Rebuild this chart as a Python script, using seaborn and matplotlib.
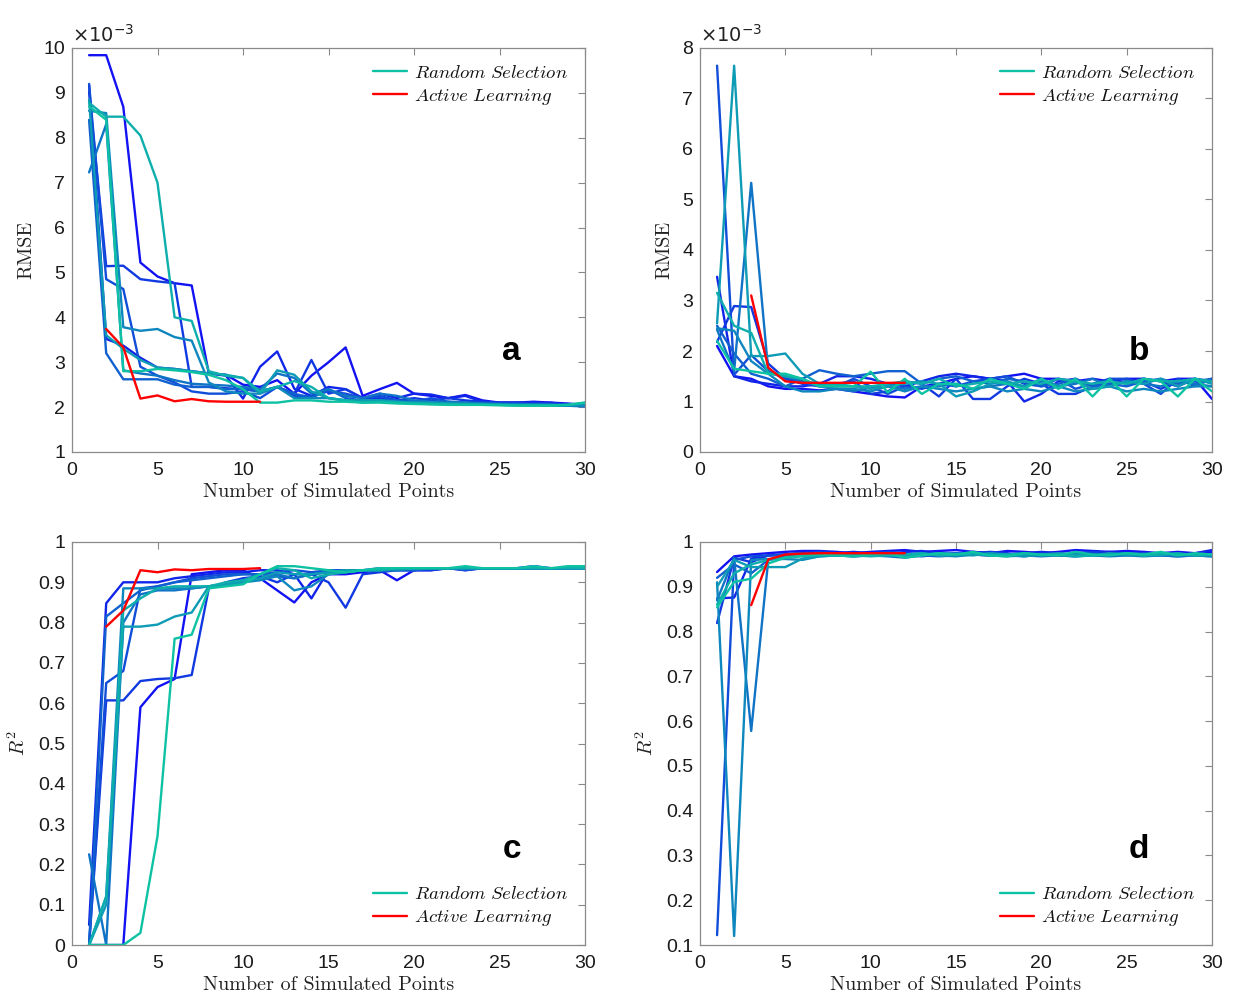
import numpy as np
import pandas as pd
import matplotlib
matplotlib.use("Agg")
import matplotlib.pyplot as plt
import seaborn as sns
from matplotlib.lines import Line2D
from matplotlib.font_manager import FontProperties

# ---------------- data ----------------
x_rand = list(range(1, 31))

# Panel a: RMSE (x 1e-3), random selection runs
rmse_a = [
    [9.84,9.84,8.69,5.22,4.91,4.76,4.71,2.75,2.72,2.50,2.45,2.60,2.30,2.70,3.00,3.33,2.25,2.40,2.54,2.30,2.25,2.20,2.27,2.15,2.10,2.10,2.12,2.10,2.08,2.05],
    [9.17,3.52,3.37,3.10,2.88,2.85,2.80,2.75,2.70,2.19,2.90,3.24,2.41,2.25,2.45,2.40,2.20,2.30,2.20,2.30,2.28,2.20,2.25,2.12,2.10,2.10,2.08,2.10,2.05,2.05],
    [9.02,5.14,5.15,4.85,4.80,4.76,2.45,2.45,2.42,2.40,2.35,2.45,2.30,3.05,2.30,2.40,2.20,2.20,2.15,2.20,2.15,2.20,2.15,2.12,2.10,2.10,2.10,2.08,2.05,2.03],
    [9.20,4.85,4.63,2.90,2.70,2.55,2.35,2.30,2.30,2.35,2.20,2.45,2.25,2.25,2.35,2.30,2.20,2.25,2.15,2.12,2.20,2.12,2.10,2.10,2.08,2.08,2.05,2.05,2.03,2.03],
    [8.40,3.20,2.62,2.62,2.62,2.50,2.45,2.45,2.40,2.40,2.35,2.45,2.30,2.20,2.40,2.20,2.15,2.15,2.15,2.12,2.10,2.10,2.10,2.08,2.07,2.05,2.05,2.05,2.03,2.02],
    [7.23,8.30,2.82,2.75,2.70,2.60,2.52,2.50,2.48,2.45,2.40,2.75,2.65,2.30,2.40,2.25,2.20,2.30,2.25,2.15,2.12,2.12,2.10,2.08,2.06,2.05,2.05,2.05,2.03,2.02],
    [8.60,8.55,3.78,3.70,3.74,3.56,3.48,2.55,2.35,2.30,2.30,2.45,2.20,2.20,2.20,2.15,2.12,2.15,2.12,2.10,2.10,2.08,2.08,2.07,2.06,2.05,2.05,2.04,2.03,2.03],
    [8.85,3.60,3.30,3.05,2.88,2.85,2.80,2.75,2.72,2.65,2.30,2.82,2.72,2.35,2.20,2.15,2.15,2.15,2.12,2.10,2.10,2.08,2.07,2.06,2.05,2.05,2.05,2.05,2.05,2.08],
    [8.78,8.47,8.47,8.05,7.00,4.00,3.92,2.80,2.70,2.65,2.35,2.45,2.58,2.45,2.20,2.15,2.10,2.12,2.10,2.08,2.07,2.06,2.06,2.05,2.05,2.04,2.04,2.04,2.05,2.10],
    [8.70,8.40,2.80,2.80,2.85,2.82,2.78,2.72,2.60,2.40,2.10,2.10,2.15,2.15,2.12,2.12,2.10,2.10,2.08,2.07,2.06,2.05,2.05,2.05,2.04,2.03,2.03,2.03,2.05,2.10],
]
x_active_a = list(range(2, 12))
rmse_active_a = [3.74,3.33,2.19,2.26,2.13,2.18,2.13,2.12,2.12,2.12]

# Panel b: RMSE (x 1e-3)
rmse_b = [
    [2.10,1.50,1.45,1.30,1.25,1.25,1.22,1.25,1.20,1.15,1.10,1.08,1.30,1.35,1.45,1.50,1.45,1.50,1.55,1.45,1.45,1.40,1.45,1.40,1.45,1.45,1.40,1.45,1.45,1.05],
    [3.47,1.50,1.40,1.35,1.30,1.30,1.35,1.50,1.50,1.45,1.35,1.30,1.40,1.50,1.55,1.50,1.45,1.40,1.00,1.15,1.40,1.45,1.30,1.35,1.40,1.45,1.40,1.30,1.45,1.40],
    [2.18,2.89,2.87,1.75,1.45,1.35,1.30,1.35,1.40,1.15,1.20,1.40,1.35,1.10,1.45,1.05,1.05,1.30,1.45,1.35,1.15,1.15,1.30,1.45,1.35,1.40,1.25,1.40,1.35,1.45],
    [7.65,1.53,1.92,1.60,1.45,1.40,1.35,1.30,1.45,1.30,1.15,1.30,1.25,1.35,1.30,1.40,1.45,1.50,1.35,1.30,1.45,1.25,1.35,1.45,1.45,1.35,1.15,1.45,1.30,1.45],
    [2.50,1.95,1.55,1.45,1.30,1.45,1.62,1.55,1.50,1.55,1.60,1.60,1.35,1.45,1.50,1.40,1.35,1.45,1.40,1.30,1.35,1.45,1.30,1.35,1.30,1.40,1.45,1.35,1.40,1.45],
    [2.42,1.60,5.33,1.60,1.50,1.40,1.30,1.25,1.20,1.30,1.30,1.25,1.30,1.30,1.35,1.25,1.30,1.35,1.30,1.40,1.30,1.35,1.45,1.30,1.40,1.35,1.30,1.40,1.35,1.30],
    [2.45,2.40,1.80,1.55,1.30,1.20,1.20,1.25,1.25,1.20,1.30,1.20,1.30,1.25,1.20,1.25,1.30,1.20,1.25,1.20,1.30,1.20,1.25,1.30,1.20,1.25,1.20,1.25,1.30,1.30],
    [2.55,7.65,1.90,1.90,1.95,1.55,1.35,1.30,1.30,1.25,1.30,1.35,1.40,1.35,1.10,1.20,1.35,1.40,1.30,1.45,1.30,1.40,1.25,1.30,1.40,1.35,1.45,1.30,1.45,1.35],
    [3.15,2.50,2.36,1.55,1.50,1.45,1.30,1.35,1.30,1.30,1.35,1.40,1.35,1.45,1.30,1.35,1.40,1.35,1.40,1.35,1.45,1.40,1.35,1.40,1.35,1.45,1.40,1.40,1.45,1.40],
    [2.20,1.65,1.60,1.55,1.55,1.45,1.30,1.30,1.30,1.59,1.18,1.45,1.15,1.35,1.35,1.25,1.45,1.35,1.25,1.45,1.25,1.45,1.10,1.45,1.10,1.45,1.40,1.10,1.45,1.20],
]
x_active_b = list(range(3, 13))
rmse_active_b = [3.10,1.67,1.40,1.37,1.37,1.37,1.37,1.37,1.37,1.37]

# Panel c: R^2
r2_c = [
    [0.00,0.00,0.00,0.59,0.64,0.66,0.92,0.925,0.93,0.93,0.91,0.88,0.85,0.90,0.92,0.92,0.925,0.93,0.905,0.93,0.93,0.935,0.93,0.935,0.935,0.935,0.94,0.935,0.935,0.94],
    [0.05,0.848,0.90,0.90,0.90,0.91,0.915,0.92,0.925,0.925,0.93,0.93,0.92,0.86,0.93,0.93,0.93,0.93,0.935,0.93,0.935,0.935,0.935,0.935,0.935,0.935,0.935,0.935,0.935,0.935],
    [0.00,0.607,0.607,0.655,0.66,0.662,0.67,0.885,0.90,0.91,0.915,0.90,0.92,0.92,0.90,0.837,0.92,0.925,0.93,0.93,0.93,0.935,0.935,0.935,0.935,0.935,0.935,0.935,0.935,0.935],
    [0.00,0.65,0.68,0.885,0.89,0.90,0.91,0.915,0.92,0.92,0.92,0.925,0.93,0.925,0.93,0.93,0.93,0.935,0.93,0.93,0.935,0.935,0.93,0.935,0.935,0.935,0.935,0.935,0.935,0.94],
    [0.00,0.815,0.848,0.88,0.89,0.90,0.905,0.91,0.915,0.92,0.92,0.915,0.91,0.92,0.925,0.93,0.93,0.93,0.93,0.93,0.935,0.935,0.935,0.935,0.935,0.935,0.935,0.935,0.935,0.935],
    [0.225,0.00,0.80,0.87,0.88,0.88,0.885,0.89,0.895,0.90,0.91,0.92,0.91,0.92,0.925,0.93,0.93,0.93,0.935,0.935,0.935,0.935,0.935,0.935,0.935,0.935,0.935,0.935,0.935,0.935],
    [0.00,0.12,0.885,0.885,0.885,0.885,0.885,0.89,0.895,0.90,0.905,0.915,0.88,0.89,0.92,0.925,0.93,0.93,0.93,0.935,0.935,0.935,0.935,0.935,0.935,0.935,0.935,0.935,0.935,0.935],
    [0.00,0.10,0.79,0.79,0.795,0.815,0.825,0.89,0.895,0.90,0.91,0.925,0.92,0.92,0.925,0.93,0.93,0.93,0.935,0.935,0.935,0.935,0.935,0.935,0.935,0.935,0.935,0.935,0.935,0.935],
    [0.00,0.12,0.83,0.86,0.885,0.89,0.89,0.89,0.90,0.905,0.92,0.935,0.93,0.91,0.92,0.925,0.93,0.93,0.935,0.935,0.935,0.935,0.935,0.935,0.935,0.935,0.935,0.935,0.935,0.935],
    [0.00,0.00,0.00,0.03,0.27,0.76,0.77,0.885,0.89,0.895,0.92,0.94,0.94,0.935,0.93,0.925,0.93,0.935,0.935,0.935,0.935,0.935,0.94,0.935,0.935,0.935,0.94,0.935,0.94,0.94],
]
x_active_c = list(range(2, 12))
r2_active_c = [0.79,0.83,0.93,0.925,0.932,0.93,0.933,0.933,0.933,0.935]

# Panel d: R^2
r2_d = [
    [0.933,0.968,0.972,0.975,0.978,0.98,0.98,0.978,0.975,0.978,0.98,0.982,0.978,0.98,0.982,0.978,0.975,0.98,0.978,0.975,0.978,0.982,0.98,0.978,0.98,0.978,0.975,0.978,0.975,0.978],
    [0.874,0.876,0.963,0.97,0.972,0.975,0.972,0.975,0.978,0.975,0.972,0.978,0.98,0.975,0.972,0.978,0.975,0.972,0.975,0.978,0.975,0.97,0.975,0.978,0.975,0.972,0.975,0.972,0.975,0.982],
    [0.819,0.965,0.955,0.97,0.972,0.975,0.978,0.975,0.972,0.975,0.978,0.975,0.972,0.975,0.972,0.975,0.978,0.975,0.97,0.975,0.972,0.975,0.978,0.975,0.972,0.975,0.972,0.975,0.97,0.972],
    [0.122,0.96,0.968,0.97,0.972,0.975,0.972,0.97,0.972,0.975,0.972,0.97,0.968,0.972,0.975,0.972,0.97,0.972,0.975,0.972,0.97,0.972,0.975,0.97,0.972,0.975,0.972,0.97,0.972,0.97],
    [0.92,0.95,0.93,0.96,0.968,0.97,0.972,0.97,0.968,0.97,0.975,0.972,0.97,0.968,0.97,0.972,0.975,0.97,0.968,0.972,0.97,0.968,0.972,0.97,0.975,0.972,0.97,0.968,0.97,0.972],
    [0.87,0.965,0.578,0.96,0.968,0.97,0.972,0.975,0.972,0.97,0.968,0.965,0.97,0.972,0.975,0.972,0.97,0.972,0.97,0.968,0.97,0.972,0.97,0.968,0.97,0.972,0.97,0.968,0.97,0.968],
    [0.91,0.12,0.96,0.962,0.962,0.96,0.968,0.97,0.968,0.97,0.972,0.97,0.975,0.97,0.968,0.972,0.97,0.968,0.97,0.972,0.97,0.968,0.97,0.972,0.97,0.968,0.97,0.972,0.97,0.968],
    [0.90,0.96,0.944,0.944,0.944,0.963,0.968,0.97,0.972,0.975,0.97,0.968,0.972,0.975,0.972,0.97,0.975,0.972,0.968,0.972,0.975,0.972,0.97,0.975,0.972,0.97,0.975,0.972,0.97,0.972],
    [0.86,0.93,0.95,0.96,0.965,0.968,0.97,0.972,0.97,0.968,0.97,0.972,0.975,0.97,0.972,0.975,0.97,0.972,0.975,0.97,0.972,0.968,0.97,0.972,0.975,0.97,0.972,0.975,0.97,0.972],
    [0.854,0.911,0.918,0.952,0.965,0.97,0.972,0.97,0.968,0.972,0.975,0.965,0.97,0.975,0.972,0.978,0.97,0.968,0.975,0.972,0.97,0.978,0.972,0.97,0.975,0.972,0.978,0.97,0.975,0.972],
]
x_active_d = list(range(3, 13))
r2_active_d = [0.859,0.961,0.972,0.974,0.975,0.975,0.975,0.975,0.975,0.975]

legend_labels = ["Random Selection", "Active Learning"]
x_label = "Number of Simulated Points"
panel_letters = ["a", "b", "c", "d"]

# ---------------- style ----------------
sns.set_theme(style="white")
plt.rcParams["font.family"] = ["Liberation Sans", "DejaVu Sans"]
plt.rcParams["axes.unicode_minus"] = False

n_runs = 10
c_start = np.array([0.07, 0.07, 0.95])
c_end = np.array([0.05, 0.76, 0.64])
run_colors = [tuple(c_start + (c_end - c_start) * t) for t in np.linspace(0, 1, n_runs)]
red = (1.0, 0.0, 0.0)
spine_col = "#8a8a8a"
lw = 1.7

fig = plt.figure(figsize=(12.5, 10.06), dpi=100)
W, H = 1250, 1006
def rect(l, r, t, b):
    return [l / W, 1 - b / H, (r - l) / W, (b - t) / H]

axes = [
    fig.add_axes(rect(72, 585, 48, 452)),
    fig.add_axes(rect(700, 1212, 48, 452)),
    fig.add_axes(rect(72, 585, 542, 945)),
    fig.add_axes(rect(700, 1212, 542, 945)),
]

panels = [
    (rmse_a, x_active_a, rmse_active_a, (1, 10), list(range(1, 11)), "RMSE", True, "upper right"),
    (rmse_b, x_active_b, rmse_active_b, (0, 8), list(range(0, 9)), "RMSE", True, "upper right"),
    (r2_c, x_active_c, r2_active_c, (0, 1), [round(0.1 * i, 1) for i in range(0, 11)], r"$R^2$", False, "lower right"),
    (r2_d, x_active_d, r2_active_d, (0.1, 1), [round(0.1 * i, 1) for i in range(1, 11)], r"$R^2$", False, "lower right"),
]

for ax, (runs, xa, ya, ylim, yticks, ylab, sci, legloc), letter in zip(axes, panels, panel_letters):
    df = pd.DataFrame({
        "x": np.tile(x_rand, len(runs)),
        "y": np.concatenate(runs),
        "run": np.repeat(np.arange(len(runs)), len(x_rand)),
    })
    sns.lineplot(data=df, x="x", y="y", hue="run", palette=run_colors, estimator=None,
                 units="run", legend=False, linewidth=lw, ax=ax, sort=False)
    dfa = pd.DataFrame({"x": xa, "y": ya})
    sns.lineplot(data=dfa, x="x", y="y", color=red, linewidth=lw, ax=ax, estimator=None, zorder=5)

    ax.set_xlim(0, 30)
    ax.set_ylim(*ylim)
    ax.set_xticks([0, 5, 10, 15, 20, 25, 30])
    ax.set_yticks(yticks)
    ax.set_yticklabels([f"{v:g}" for v in yticks])
    ax.tick_params(direction="in", length=5, width=0.8, color=spine_col, top=True, right=True,
                   labelsize=14, labelcolor="#1a1a1a")
    ax.tick_params(axis="x", pad=7)
    ax.tick_params(axis="y", pad=5)
    for s in ax.spines.values():
        s.set_color(spine_col)
        s.set_linewidth(0.9)
    ax.set_xlabel(x_label, fontsize=14.5, family="cmr10", color="#222222", labelpad=3)
    if ylab == "RMSE":
        ax.set_ylabel(ylab, fontsize=14.5, family="cmr10", color="#222222", labelpad=6)
    else:
        ax.set_ylabel(ylab, fontsize=14.5, math_fontfamily="cm", color="#222222", labelpad=6)
    ax.grid(False)

    if sci:
        ax.text(0.0, 1.006, r"$\times10^{-3}$", transform=ax.transAxes, fontsize=14,
                math_fontfamily="dejavusans", color="#222222", ha="left", va="bottom")

    handles = [Line2D([], [], color=run_colors[-1], lw=lw), Line2D([], [], color=red, lw=lw)]
    labels = [r"$\mathit{Random\ Selection}$", r"$\mathit{Active\ Learning}$"]
    leg = ax.legend(handles, labels, loc=legloc, frameon=False,
                    prop=FontProperties(size=13.5, math_fontfamily="cm"),
                    handlelength=1.8, handletextpad=0.4, labelspacing=0.25,
                    borderaxespad=0.5)
    for t in leg.get_texts():
        t.set_color("#111111")

    ax.text(0.857, 0.25 if letter in "ab" else 0.236, letter, transform=ax.transAxes,
            fontsize=24, fontweight="bold", family="Liberation Sans", ha="center", va="center",
            color="black")

fig.savefig("out.png", dpi=100)
